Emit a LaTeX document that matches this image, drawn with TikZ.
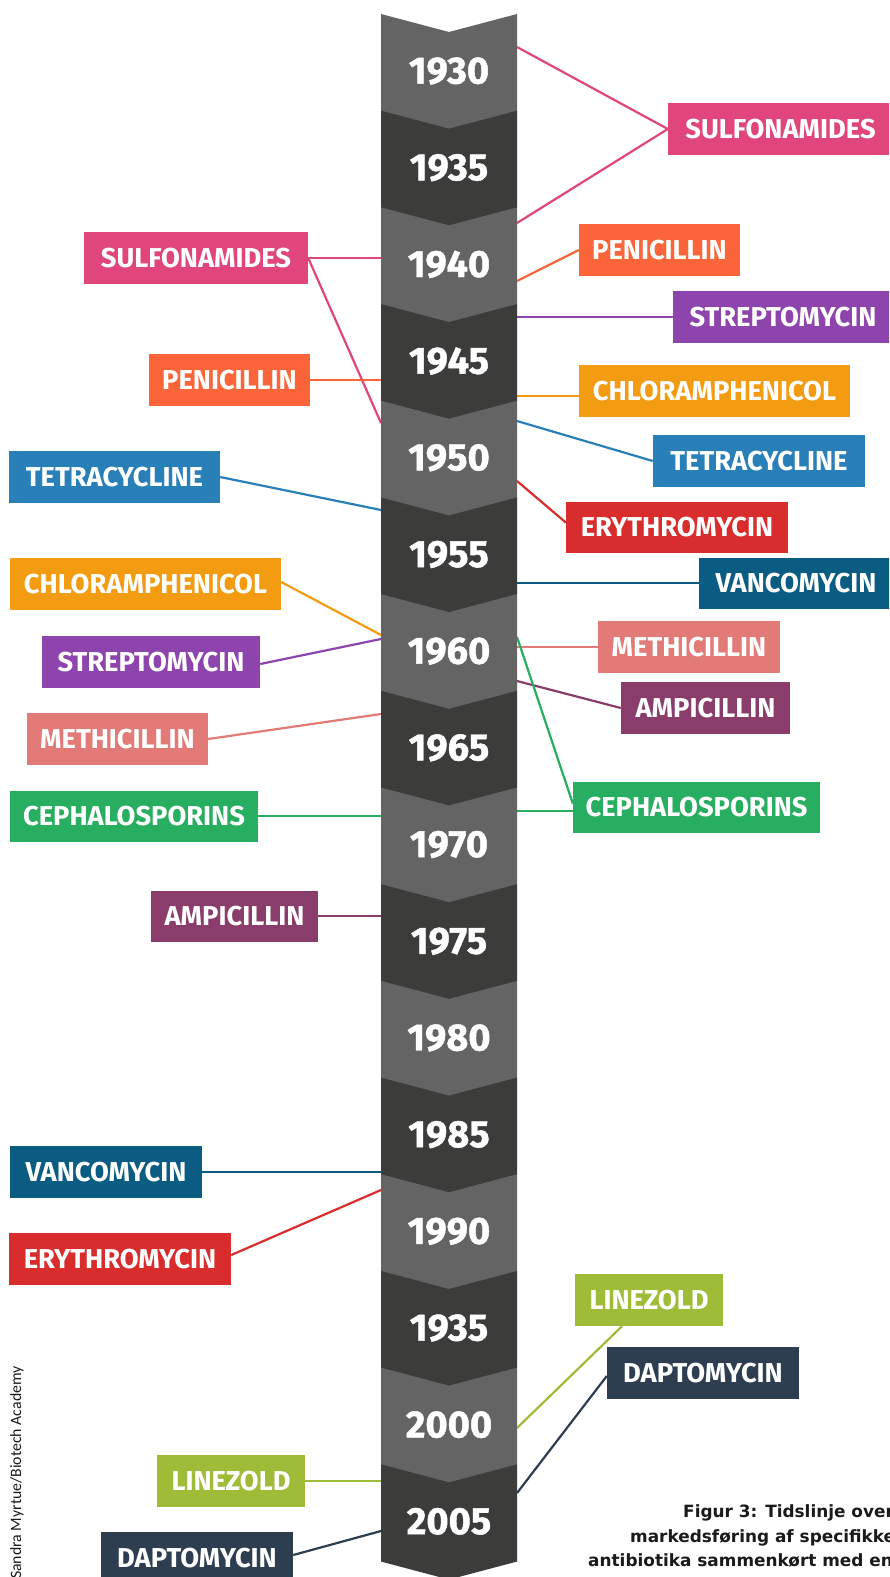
\documentclass[tikz,border=0pt]{standalone}
\usepackage{fontspec}
\setmainfont{Fira Sans}
\newfontfamily\yearfont{Fira Sans}[BoldFeatures={FakeBold=1.2}]
\newfontfamily\capfont{DejaVu Sans}
\newfontfamily\credfont{Carlito}
\definecolor{seglight}{HTML}{646464}
\definecolor{segdark}{HTML}{3C3C3B}
\definecolor{csulf}{HTML}{E0457B}
\definecolor{cpen}{HTML}{FB6539}
\definecolor{cstrep}{HTML}{8E44AD}
\definecolor{cchlor}{HTML}{F39C12}
\definecolor{ctet}{HTML}{2980B9}
\definecolor{cery}{HTML}{D92D2D}
\definecolor{cvanc}{HTML}{0B5C82}
\definecolor{cmeth}{HTML}{E27B78}
\definecolor{camp}{HTML}{8A3D6B}
\definecolor{cceph}{HTML}{27AE60}
\definecolor{clinez}{HTML}{9EBC38}
\definecolor{cdapt}{HTML}{2C3E50}
\definecolor{captxt}{HTML}{1A1A1A}
\tikzset{
  lbl/.style={inner sep=0pt, text=white, font=\bfseries\fontsize{27.3}{27.3}\selectfont},
  year/.style={text=white, inner sep=0pt, font=\yearfont\bfseries\fontsize{38}{38}\selectfont},
  conn/.style={line width=2.2pt},
  capline/.style={anchor=base west, inner sep=0pt, text=captxt, font=\capfont\bfseries\fontsize{16.9}{16.9}\selectfont},
}
% \lab{name}{colour}{x1}{x2}{y1}{y2}{text}
\newcommand{\lab}[7]{\node[lbl, fill=#2, minimum width={#4-#3}, minimum height={#6-#5}] (#1) at ({(#3+#4)/2},{(#5+#6)/2}) {#7};}
\begin{document}
\begin{tikzpicture}[x=1pt,y=-1pt]
\useasboundingbox (0,0) rectangle (889,1577);
\clip (0,0) rectangle (889,1577);
\fill[white] (0,0) rectangle (889,1577);

% timeline edge coordinates
\coordinate (r1) at (517,47);
\coordinate (r2) at (517,223);
\coordinate (r3) at (517,281);
\coordinate (r4) at (517,317);
\coordinate (r5) at (517,396);
\coordinate (r6) at (517,421);
\coordinate (r7) at (517,481);
\coordinate (r8) at (517,583);
\coordinate (r9) at (517,647);
\coordinate (r10) at (517,681);
\coordinate (r11) at (517,637);
\coordinate (r12) at (517,811);
\coordinate (r13) at (517,1428);
\coordinate (r14) at (517,1493);
\coordinate (l1) at (381,258);
\coordinate (l2) at (381,423);
\coordinate (l3) at (381,380);
\coordinate (l4) at (381,510);
\coordinate (l5) at (381,635);
\coordinate (l6) at (381,639);
\coordinate (l7) at (381,714);
\coordinate (l8) at (381,816);
\coordinate (l9) at (381,916);
\coordinate (l10) at (381,1172);
\coordinate (l11) at (381,1190);
\coordinate (l12) at (381,1481);
\coordinate (l13) at (381,1531);

% right labels
\lab{sulfR}{csulf}{668}{893}{103}{155}{SULFONAMIDES}
\lab{penR}{cpen}{579}{740}{224}{276}{PENICILLIN}
\lab{strepR}{cstrep}{673}{893}{291}{343}{STREPTOMYCIN}
\lab{chlorR}{cchlor}{579}{850}{365}{417}{CHLORAMPHENICOL}
\lab{tetR}{ctet}{653}{865}{435}{487}{TETRACYCLINE}
\lab{eryR}{cery}{566}{788}{502}{553}{ERYTHROMYCIN}
\lab{vancR}{cvanc}{699}{893}{558}{609}{VANCOMYCIN}
\lab{methR}{cmeth}{598}{780}{621}{673}{METHICILLIN}
\lab{ampR}{camp}{621}{790}{682}{734}{AMPICILLIN}
\lab{cephR}{cceph}{573}{820}{782}{833}{CEPHALOSPORINS}
\lab{linezR}{clinez}{575}{723}{1274}{1326}{LINEZOLD}
\lab{daptR}{cdapt}{607}{799}{1347}{1399}{DAPTOMYCIN}

% left labels
\lab{sulfL}{csulf}{84}{308}{232}{284}{SULFONAMIDES}
\lab{penL}{cpen}{149}{310}{354}{406}{PENICILLIN}
\lab{tetL}{ctet}{9}{220}{451}{503}{TETRACYCLINE}
\lab{chlorL}{cchlor}{10}{281}{558}{610}{CHLORAMPHENICOL}
\lab{strepL}{cstrep}{42}{260}{636}{688}{STREPTOMYCIN}
\lab{methL}{cmeth}{27}{208}{713}{765}{METHICILLIN}
\lab{cephL}{cceph}{10}{258}{791}{842}{CEPHALOSPORINS}
\lab{ampL}{camp}{151}{318}{891}{942}{AMPICILLIN}
\lab{vancL}{cvanc}{10}{202}{1146}{1198}{VANCOMYCIN}
\lab{eryL}{cery}{9}{231}{1233}{1285}{ERYTHROMYCIN}
\lab{linezL}{clinez}{157}{305}{1455}{1507}{LINEZOLD}
\lab{daptL}{cdapt}{101}{293}{1532}{1584}{DAPTOMYCIN}

% connectors right
\draw[conn, csulf] (r1) -- (sulfR.west);
\draw[conn, csulf] (r2) -- (sulfR.west);
\draw[conn, cpen] (r3) -- (penR.west);
\draw[conn, cstrep] (r4) -- (r4 -| strepR.west);
\draw[conn, cchlor] (r5) -- (r5 -| chlorR.west);
\draw[conn, ctet] (r6) -- (tetR.west);
\draw[conn, cery] (r7) -- ([yshift=5pt]eryR.west);
\draw[conn, cvanc] (r8) -- (r8 -| vancR.west);
\draw[conn, cmeth] (r9) -- (r9 -| methR.west);
\draw[conn, camp] (r10) -- (ampR.west);
\draw[conn, cceph] (r11) -- ([yshift=4pt]cephR.west);
\draw[conn, cceph] (r12) -- (r12 -| cephR.west);
\draw[conn, clinez] (r13) -- ([xshift=-27pt]linezR.south);
\draw[conn, cdapt] (r14) -- ([yshift=-3pt]daptR.west);

% connectors left
\draw[conn, csulf] (sulfL.east) -- (l1);
\draw[conn, csulf] (sulfL.east) -- (l2);
\draw[conn, cpen] (l3 -| penL.east) -- (l3);
\draw[conn, ctet] (tetL.east) -- (l4);
\draw[conn, cchlor] ([yshift=2pt]chlorL.east) -- (l5);
\draw[conn, cstrep] ([yshift=-2pt]strepL.east) -- (l6);
\draw[conn, cmeth] (methL.east) -- (l7);
\draw[conn, cceph] (l8 -| cephL.east) -- (l8);
\draw[conn, camp] (l9 -| ampL.east) -- (l9);
\draw[conn, cvanc] (l10 -| vancL.east) -- (l10);
\draw[conn, cery] ([yshift=4pt]eryL.east) -- (l11);
\draw[conn, clinez] (l12 -| linezL.east) -- (l12);
\draw[conn, cdapt] ([yshift=3pt]daptL.east) -- (l13);

% timeline
\foreach \yr [count=\i from 0] in {1930,1935,1940,1945,1950,1955,1960,1965,1970,1975,1980,1985,1990,1935,2000,2005} {
  \pgfmathsetmacro\t{14+96.69*\i}
  \ifodd\i \def\segcol{segdark}\else \def\segcol{seglight}\fi
  \fill[\segcol] (381,\t) -- (449,\t+18) -- (517,\t) -- (517,\t+97.2) -- (449,\t+115.2) -- (381,\t+97.2) -- cycle;
  \node[year] (yr\i) at (449,\t+57) {\yr};
}

% credit
\node[rotate=90, anchor=base west, inner sep=0pt, text=captxt, font=\credfont\fontsize{15.8}{15.8}\selectfont] (credit) at (21,1579) {Sandra Myrtue/Biotech Academy};

% caption
\node[capline] (cap1) at (683,1517) {Figur 3: Tidslinje over};
\node[capline] (cap2) at (630,1542) {markedsføring af specifikke};
\node[capline] (cap3) at (588,1566) {antibiotika sammenkørt med en};
\end{tikzpicture}
\end{document}
